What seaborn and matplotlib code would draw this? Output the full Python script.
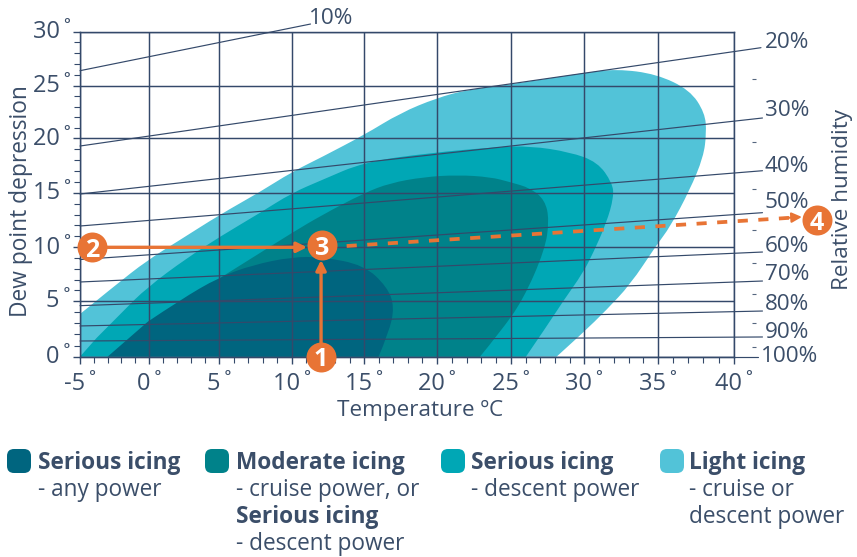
import numpy as np
import pandas as pd
import matplotlib
matplotlib.use("Agg")
import matplotlib.pyplot as plt
import seaborn as sns
from matplotlib.path import Path
from matplotlib.patches import PathPatch, FancyBboxPatch
from matplotlib.transforms import ScaledTranslation

# chart values (temperature, dew point depression)
light_t = [-5, -5, -2.6, -0.1, 2.2, 5.0, 7.8, 10, 12.1, 15, 17.5, 20, 22.0, 24.7, 29.9, 32.2, 34.9, 37.1, 38.1, 38.2, 38.0, 37.1, 35.8, 34.9, 33.1, 31.5, 29.9, 28.1]
light_d = [0, 3.83, 6.3, 8.82, 10.67, 12.96, 15.06, 16.9, 18.28, 20.31, 22.41, 23.83, 24.6, 25.06, 26.18, 26.55, 26.08, 24.6, 22.41, 20.5, 18.28, 15.25, 11.86, 10.21, 6.49, 4.19, 2.13, 0]
medium_t = [-5, -3.8, -2.0, -0.1, 2.7, 5, 7.8, 10, 12.1, 15, 19.5, 24, 26.3, 29, 30.9, 31.9, 32, 31.5, 30.6, 29.9, 28.6, 27.4, 26]
medium_d = [0, 1.68, 3.92, 6.3, 9.0, 10.94, 13.14, 14.97, 16.17, 17.82, 18.65, 19.2, 19.29, 18.74, 17.82, 15.89, 14.6, 12.23, 9.47, 7.6, 5.09, 2.68, 0]
teal_t = [5, 5, 7.7, 10, 12.1, 15, 16.8, 19.1, 21.4, 23.6, 24.9, 26.3, 27.3, 27.6, 27.3, 25.8, 24.2, 22.9]
teal_d = [0, 7.1, 9.38, 11.31, 12.96, 14.97, 15.89, 16.44, 16.63, 16.44, 15.98, 15.43, 14.33, 12.5, 9.75, 5.09, 2.13, 0]
dark_t = [-3.0, -0.1, 2.2, 5, 7.3, 10, 12.1, 15, 16.6, 17.1, 16.7, 16]
dark_d = [0, 3.13, 5.09, 7.23, 8.35, 9.1, 9.1, 8.35, 6.3, 4.46, 2.13, 0]

rh_names = ["10%", "20%", "30%", "40%", "50%", "60%", "70%", "80%", "90%", "100%"]
rh_left = [26.39, 19.29, 14.88, 11.95, 8.86, 6.77, 4.58, 2.76, 1.41, 0]
rh_right = [30.71, 28.52, 21.93, 17.02, 13.17, 9.56, 6.86, 4.1, 1.77, 0]
rh_end_t = [11.3, 41.8, 41.9, 41.9, 41.9, 41.9, 41.9, 41.9, 41.9, 41.6]
rh_minor = [25.62, 19.63, 15.34, 11.58, 8.54, 5.65, 3.05, 0.9]

step_t = [12.03, -4.13, 12.1, 45.5]
step_d = [0, 10, 10.2, 12.5]
step_names = ["1", "2", "3", "4"]

x_vals = [-5, 0, 5, 10, 15, 20, 25, 30, 35, 40]
y_vals = [0, 5, 10, 15, 20, 25, 30]

# the printed grid is not quite even, so the axes follow it
x_px = [80, 149, 219.3, 291.7, 364, 436.7, 511.3, 584.3, 658, 733.7]
y_px = [0, 55.7, 109.4, 164, 218.4, 271, 325]

DARK = "#00657f"
TEAL = "#00828a"
MEDIUM = "#00a7b5"
LIGHT = "#52c3d8"
ORANGE = "#e87435"
INK = "#3b4e69"
GRID = "#34496a"

sns.set_theme(style="ticks")
plt.rcParams["font.family"] = ["Open Sans", "DejaVu Sans"]

fig = plt.figure(figsize=(8.57, 5.57), dpi=100)
ax = fig.add_axes([80 / 857, 1 - 356.7 / 557, (733.7 - 80) / 857, (356.7 - 31.7) / 557])


def blob(ts, ds, color):
    # quadratic chain through the read points, corners kept at both ends
    pts = list(zip(ts, ds))
    verts = [pts[0], pts[1]]
    codes = [Path.MOVETO, Path.LINETO]
    for i in range(2, len(pts) - 2):
        mid = ((pts[i][0] + pts[i + 1][0]) / 2, (pts[i][1] + pts[i + 1][1]) / 2)
        verts += [pts[i], mid]
        codes += [Path.CURVE3, Path.CURVE3]
    verts += [pts[-2], pts[-1]]
    codes += [Path.CURVE3, Path.CURVE3]
    verts.append(pts[0])
    codes.append(Path.CLOSEPOLY)
    ax.add_patch(PathPatch(Path(verts, codes), fc=color, ec="none", zorder=1))


blob(light_t, light_d, LIGHT)
blob(medium_t, medium_d, MEDIUM)
blob(teal_t, teal_d, TEAL)
blob(dark_t, dark_d, DARK)

rh = pd.DataFrame({
    "t": [-5] * len(rh_names) + rh_end_t,
    "d": rh_left + rh_right,
    "rh": rh_names * 2,
})
sns.lineplot(data=rh, x="t", y="d", units="rh", estimator=None, sort=False,
             color=GRID, lw=0.85, legend=False, ax=ax, zorder=3)
for line in ax.lines:
    line.set_clip_on(False)

ax.hlines(rh_minor, 41.2, 41.5, color="#55667f", lw=0.8, clip_on=False, zorder=3)

# custom scales
xk = [-30] + x_vals + [60]
xp = [80 - 25 * 13.8] + x_px + [733.7 + 20 * 15.15]
yk = [-10] + y_vals + [40]
yp = [-108] + y_px + [325 + 108]
ax.set_xscale("function", functions=(lambda v: np.interp(v, xk, xp), lambda v: np.interp(v, xp, xk)))
ax.set_yscale("function", functions=(lambda v: np.interp(v, yk, yp), lambda v: np.interp(v, yp, yk)))
ax.set_xlim(-5, 40)
ax.set_ylim(0, 30)

ax.set_xticks(x_vals)
ax.set_xticklabels([f"{v}\u2009˚" for v in x_vals], fontsize=17, color=INK)
ax.set_yticks(y_vals)
ax.set_yticklabels([f"{v}\u2009˚" for v in y_vals], fontsize=17, color=INK)
ax.set_xticks([v + i for v in x_vals[:-1] for i in range(1, 5)], minor=True)
ax.set_yticks([v + i for v in y_vals[:-1] for i in range(1, 5)], minor=True)
ax.tick_params(axis="x", which="major", length=5, width=1, color=GRID, pad=6)
ax.tick_params(axis="y", which="major", length=5, width=1, color=GRID, pad=1.5)
ax.tick_params(axis="both", which="minor", length=4.5, width=0.8, color=GRID)
up = ScaledTranslation(0, 2 / 72, fig.dpi_scale_trans)
for lab in ax.get_yticklabels():
    lab.set_transform(lab.get_transform() + up)
ax.grid(True, which="major", color=GRID, lw=1.05, zorder=2)
ax.set_axisbelow(False)
for s in ax.spines.values():
    s.set_color(GRID)
    s.set_linewidth(1.05)
ax.set_xlabel("")
ax.set_ylabel("")

# route across the chart
ax.annotate("", xy=(step_t[0], 8.82), xytext=(step_t[0], step_d[0]), zorder=5,
            arrowprops=dict(arrowstyle="-|>", color=ORANGE, lw=2.4, mutation_scale=15, shrinkA=0, shrinkB=0))
ax.annotate("", xy=(11.06, step_d[1]), xytext=(step_t[1], step_d[1]), zorder=5, annotation_clip=False,
            arrowprops=dict(arrowstyle="-|>", color=ORANGE, lw=2.4, mutation_scale=15, shrinkA=0, shrinkB=0))
ax.plot([13.8, 43.7], [10.12, 12.7], color=ORANGE, lw=2.7, dashes=(2.7, 2.8), clip_on=False, zorder=5)
ax.annotate("", xy=(44.5, 12.78), xytext=(43.2, 12.67), zorder=5, annotation_clip=False,
            arrowprops=dict(arrowstyle="-|>", color=ORANGE, lw=1.5, mutation_scale=15, shrinkA=0, shrinkB=0))
ax.scatter(step_t, step_d, s=466, color=ORANGE, linewidths=0, clip_on=False, zorder=6)
for t, d, name in zip(step_t, step_d, step_names):
    ax.text(t, d, name, color="white", fontsize=18, fontweight="bold", ha="center",
            va="center_baseline", zorder=7, clip_on=False)

# text and legend, laid out in picture pixels
over = fig.add_axes([0, 0, 1, 1], facecolor="none")
over.set_xlim(0, 857)
over.set_ylim(557, 0)
over.axis("off")

over.text(420, 410, "Temperature ºC", fontsize=16.2, color=INK, ha="center", va="center")
over.text(21, 201, "Dew point depression", fontsize=16.4, color=INK, rotation=90, ha="center", va="center")
over.text(843, 199, "Relative humidity", fontsize=16.2, color=INK, rotation=90, ha="center", va="center")

rh_label_x = [309, 765, 765, 765, 765, 765, 765, 765, 765, 761]
rh_label_y = [18, 42, 110, 166, 203, 246, 275, 305, 333, 357]
for name, px, py in zip(rh_names, rh_label_x, rh_label_y):
    over.text(px, py, name, fontsize=16.2, color=INK, ha="left", va="center")

swatches = [(7, DARK), (205, TEAL), (441, MEDIUM), (660, LIGHT)]
for px, col in swatches:
    over.add_patch(FancyBboxPatch((px + 4, 453), 16, 16, boxstyle="round,pad=4,rounding_size=7",
                                  fc=col, ec="none"))

legend_rows = [
    (38, 463, "Serious icing", "bold"), (38, 490, "- any power", "normal"),
    (236, 463, "Moderate icing", "bold"), (236, 490, "- cruise power, or", "normal"),
    (236, 517, "Serious icing", "bold"), (236, 544, "- descent power", "normal"),
    (471, 463, "Serious icing", "bold"), (471, 490, "- descent power", "normal"),
    (689, 463, "Light icing", "bold"), (689, 490, "- cruise or", "normal"),
    (689, 517, "descent power", "normal"),
]
for px, py, txt, weight in legend_rows:
    over.text(px, py, txt, fontsize=16.3, color=INK, fontweight=weight, ha="left", va="center")

fig.savefig("out.png", dpi=100)
